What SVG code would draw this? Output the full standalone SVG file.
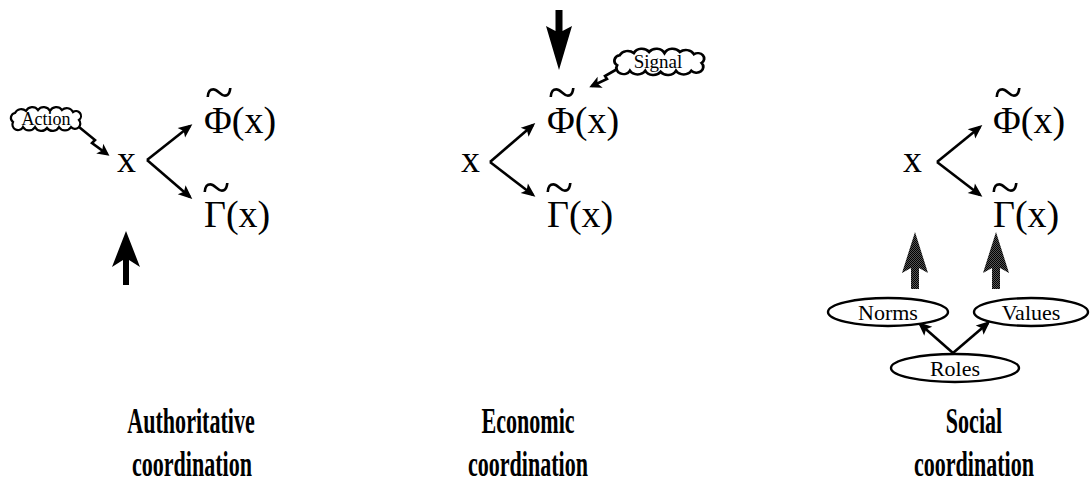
<svg xmlns="http://www.w3.org/2000/svg" width="1092" height="503" viewBox="0 0 1092 503">
<style>
.m{font-family:"Liberation Serif","Times New Roman",serif;font-size:38px;fill:#000}
.tl{font-size:52px}
.s{font-family:"Liberation Serif","Times New Roman",serif;font-size:22px;fill:#000;text-anchor:middle}
.c{font-family:"Liberation Serif","Times New Roman",serif;font-size:18px;fill:#000;text-anchor:middle}
.lb{font-family:"Liberation Serif","Times New Roman",serif;font-weight:bold;font-size:35px;fill:#000;text-anchor:middle}
.ln{stroke:#000;stroke-width:2.6;fill:none;marker-end:url(#ah)}
.zz{stroke:#000;stroke-width:2.6;fill:none;marker-end:url(#ahs)}
.el{fill:#fff;stroke:#000;stroke-width:2.4}
.cl{fill:#fff;stroke:#000;stroke-width:2.2}
</style>
<defs>
<marker id="ah" markerUnits="userSpaceOnUse" viewBox="-14 -8 18 16" markerWidth="18" markerHeight="16" refX="0" refY="0" orient="auto" overflow="visible">
<path d="M3,0 L-11,-6 L-8,0 L-11,6 Z" fill="#000"/>
</marker>
<marker id="ahs" markerUnits="userSpaceOnUse" viewBox="-12 -8 16 16" markerWidth="16" markerHeight="16" refX="0" refY="0" orient="auto" overflow="visible">
<path d="M3,0 L-9,-6 L-6,0 L-9,6 Z" fill="#000"/>
</marker>
<pattern id="ht" width="2" height="2" patternUnits="userSpaceOnUse">
<rect width="2" height="2" fill="#555"/>
<rect width="1" height="1" fill="#000"/>
<rect x="1" y="1" width="1" height="1" fill="#000"/>
</pattern>
<path id="cloud" d="M4,12 A5,5 0 0 1 6,3 A7,7 0 0 1 17,1 A7,7 0 0 1 29,0 A7,7 0 0 1 41,1 A7,7 0 0 1 53,0 A7,7 0 0 1 64,2 A5,5 0 0 1 70,10 A5,5 0 0 1 62,17 A7,7 0 0 1 50,17 A7,7 0 0 1 38,18 A7,7 0 0 1 26,17 A7,7 0 0 1 14,17 A5,5 0 0 1 4,12 Z"/>
</defs>
<rect width="1092" height="503" fill="#fff"/>

<g id="connectors">
<path class="ln" d="M147,160 L190,126"/>
<path class="ln" d="M147,160 L190,197"/>
<path class="ln" d="M490,162 L533,125"/>
<path class="ln" d="M490,162 L533,195"/>
<path class="ln" d="M937,162 L980,127"/>
<path class="ln" d="M937,162 L980,195"/>
<path class="ln" d="M953,353 L920,324"/>
<path class="ln" d="M953,353 L988,323"/>
<path class="zz" d="M79,127 L95,140 L92,143 L107,154"/>
<path class="zz" d="M619,68 L605,76 L607,79 L592,86"/>
<polygon points="126,231 140,267 129,260 129,285 123,285 123,260 112,267" fill="#000"/>
<polygon points="555.5,10 562.5,10 562.5,31 572,26 559,70 546,26 555.5,31" fill="#000"/>
<polygon points="915,232 928,273 919,268 919,289 911,289 911,268 902,273" fill="url(#ht)"/>
<polygon points="996,232 1009,273 1000,268 1000,289 992,289 992,268 983,273" fill="url(#ht)"/>
</g>

<g id="auth">
<g id="action-cloud"><use href="#cloud" class="cl" transform="translate(9,110)"/><text class="c" x="46" y="125">Action</text></g>
<text id="a-x" class="m" x="117" y="172">x</text>
<text id="a-phi" class="m" x="204" y="133">Φ(x)<tspan class="tl" x="205" y="110">~</tspan></text>
<text id="a-gamma" class="m" x="204" y="227">Γ(x)<tspan class="tl" x="202" y="205">~</tspan></text>
<g id="a-label"><text class="lb" transform="translate(191,433) scale(0.63,1)">Authoritative</text><text class="lb" transform="translate(192,476) scale(0.63,1)">coordination</text></g>
</g>

<g id="econ">
<g id="signal-cloud"><use href="#cloud" class="cl" transform="translate(612,52) scale(1.28,1.1)"/><text class="c" x="658" y="68" style="font-size:19px">Signal</text></g>
<text id="e-x" class="m" x="461" y="172">x</text>
<text id="e-phi" class="m" x="547" y="133">Φ(x)<tspan class="tl" x="548" y="110">~</tspan></text>
<text id="e-gamma" class="m" x="547" y="227">Γ(x)<tspan class="tl" x="545" y="205">~</tspan></text>
<g id="e-label"><text class="lb" transform="translate(528,433) scale(0.63,1)">Economic</text><text class="lb" transform="translate(528,476) scale(0.63,1)">coordination</text></g>
</g>

<g id="social">
<text id="s-x" class="m" x="903" y="172">x</text>
<text id="s-phi" class="m" x="993" y="133">Φ(x)<tspan class="tl" x="994" y="110">~</tspan></text>
<text id="s-gamma" class="m" x="993" y="227">Γ(x)<tspan class="tl" x="991" y="205">~</tspan></text>
<g id="norms"><ellipse class="el" cx="888" cy="312" rx="60" ry="14"/><text class="s" x="888" y="320">Norms</text></g>
<g id="values"><ellipse class="el" cx="1031" cy="312" rx="57" ry="14"/><text class="s" x="1031" y="320">Values</text></g>
<g id="roles"><ellipse class="el" cx="955" cy="368" rx="64" ry="14"/><text class="s" x="955" y="376">Roles</text></g>
<g id="s-label"><text class="lb" transform="translate(974,433) scale(0.63,1)">Social</text><text class="lb" transform="translate(974,476) scale(0.63,1)">coordination</text></g>
</g>
</svg>
